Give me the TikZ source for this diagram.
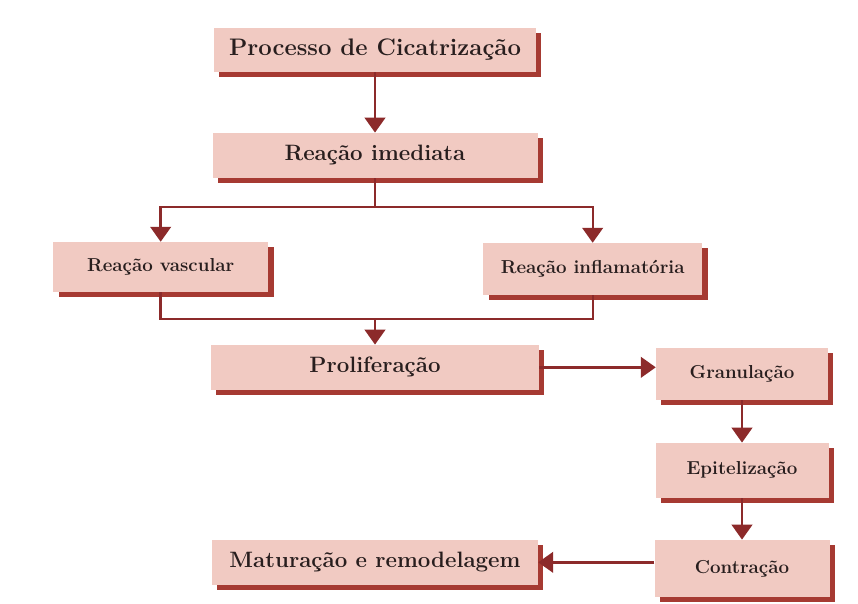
\documentclass[tikz,border=0pt]{standalone}
\usepackage{tikz}
\usetikzlibrary{shadows}
\usetikzlibrary{arrows.meta}
\definecolor{boxpink}{RGB}{241,202,194}
\definecolor{shadowred}{RGB}{166,58,50}
\definecolor{linered}{RGB}{140,42,42}
\definecolor{textdark}{RGB}{40,30,30}
\tikzset{
    box/.style = {rectangle, draw=none, fill=boxpink, text=textdark, align=center,
        font=\bfseries\fontsize{19}{22}\selectfont,
        drop shadow={shadow xshift=0.16cm, shadow yshift=-0.16cm, fill=shadowred, opacity=1}},
    boxs/.style = {box, font=\bfseries\fontsize{16}{19}\selectfont},
    linen/.style = {line width=2pt, draw=linered},
    edgen/.style = {-{Triangle[width=0.62cm,length=0.45cm]}, line width=2pt, draw=linered},
}

\begin{document}
\begin{tikzpicture}
\useasboundingbox[fill=white] (0,0) rectangle (25.74,18.09);
\node[box, minimum width=9.66cm, minimum height=1.32cm, font=\bfseries\fontsize{20.4}{24}\selectfont] at (11.25, 16.59) (proc) {Processo de Cicatrização};
\node[box, minimum width=9.75cm, minimum height=1.35cm] at (11.25, 13.43) (imed) {Reação imediata};
\node[boxs, minimum width=6.45cm, minimum height=1.50cm] at (4.82, 10.08) (vasc) {Reação vascular};
\node[boxs, minimum width=6.57cm, minimum height=1.56cm] at (17.78, 10.02) (infl) {Reação inflamatória};
\node[box, minimum width=9.84cm, minimum height=1.35cm] at (11.25, 7.07) (prol) {Proliferação};
\node[boxs, minimum width=5.16cm, minimum height=1.56cm] at (22.26, 6.87) (gran) {Granulação};
\node[boxs, minimum width=5.19cm, minimum height=1.65cm] at (22.26, 3.98) (epit) {Epitelização};
\node[boxs, minimum width=5.25cm, minimum height=1.71cm] at (22.26, 1.04) (cont) {Contração};
\node[box, minimum width=9.78cm, minimum height=1.35cm] at (11.25, 1.22) (matu) {Maturação e remodelagem};
%
\coordinate (split) at (11.25, 11.88);
\coordinate (join) at (11.25, 8.52);
%
\draw[edgen] (proc) -- (imed);
\draw[linen] (imed.south) -- (split);
\draw[edgen] (split) -| (vasc.north);
\draw[edgen] (split) -| (infl.north);
\draw[linen] (vasc.south) |- (join) -| (infl.south);
\draw[edgen] (join) -- (prol.north);
\draw[edgen] (prol.east) -- (prol.east -| gran.west);
\draw[edgen] (gran) -- (epit);
\draw[edgen] (epit) -- (cont);
\draw[edgen] (matu.east -| cont.west) -- (matu.east);
\end{tikzpicture}
\end{document}
